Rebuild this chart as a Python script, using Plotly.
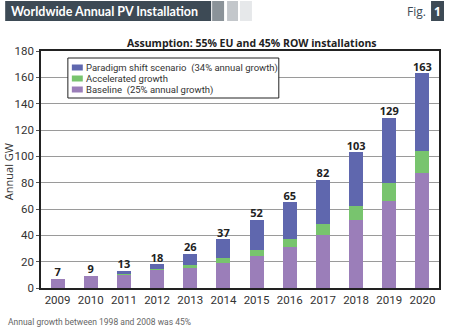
import plotly.graph_objects as go

years = ["2009", "2010", "2011", "2012", "2013", "2014", "2015", "2016", "2017", "2018", "2019", "2020"]
baseline = [7, 9, 10, 13.7, 15.4, 19.2, 24.3, 31.1, 40, 51.4, 66.3, 87.1]
accelerated = [0, 0, 0.4, 1.0, 1.8, 3.8, 4.6, 6.1, 8.4, 10.9, 13.7, 17.2]
totals = [7, 9, 13, 18, 26, 37, 52, 65, 82, 103, 129, 163]
paradigm = [t - b - a for t, b, a in zip(totals, baseline, accelerated)]
y_ticks = [0, 20, 40, 60, 80, 100, 120, 140, 160, 180]
series_names = ["Paradigm shift scenario  (34% annual growth)", "Accelerated growth", "Baseline  (25% annual growth)"]

BLUE = "#5f67ae"
GREEN = "#78c46e"
PURPLE = "#9b7eb9"
FONT = "Open Sans"

fig = go.Figure()
fig.add_trace(go.Bar(x=years, y=baseline, name=series_names[2], marker=dict(color=PURPLE, line=dict(width=0))))
fig.add_trace(go.Bar(x=years, y=accelerated, name=series_names[1], marker=dict(color=GREEN, line=dict(width=0))))
fig.add_trace(go.Bar(x=years, y=paradigm, name=series_names[0], marker=dict(color=BLUE, line=dict(width=0))))
fig.add_trace(go.Scatter(x=years, y=totals, mode="text", text=[str(t) for t in totals],
                         textposition="top center", showlegend=False, hoverinfo="skip",
                         textfont=dict(family=FONT, size=11, color="#222222", weight="bold")))

W, H = 450, 331
L, R, T, B = 41, 9, 51, 43
pw, ph = W - L - R, H - T - B

def px(x):
    return (x - L) / pw

def py(y):
    return (H - B - y) / ph

def prect(x0, x1, y0, y1, fill, line=None, layer="above"):
    return dict(type="rect", xref="paper", yref="paper", x0=px(x0), x1=px(x1), y0=py(y1), y1=py(y0),
                fillcolor=fill, line=line or dict(width=0), layer=layer)

shapes = [
    prect(5, 212, 1, 21, "#3d4a55"),
    prect(213, 225, 1, 21, "#8b9399"),
    prect(228, 239, 1, 21, "#c3c7cb"),
    prect(241, 253, 1, 21, "#e6e8ea"),
    prect(433, 446, 1, 21, "#3d4a55"),
    prect(68, 280, 58, 98, "white", dict(color="#222222", width=1)),
]

annotations = [
    dict(text="Worldwide Annual PV Installation", xref="paper", yref="paper", x=px(9), y=py(11.5),
         xanchor="left", yanchor="middle", showarrow=False, font=dict(family="Lato", size=12.5, color="white", weight="bold")),
    dict(text="Fig.", xref="paper", yref="paper", x=px(430), y=py(11),
         xanchor="right", yanchor="middle", showarrow=False, font=dict(family=FONT, size=12, color="#3d4a55")),
    dict(text="1", xref="paper", yref="paper", x=px(439.5), y=py(11),
         xanchor="center", yanchor="middle", showarrow=False, font=dict(family=FONT, size=12, color="white", weight="bold")),
    dict(text="Assumption: 55% EU and 45% ROW installations", xref="paper", yref="paper", x=px(253), y=py(43),
         xanchor="center", yanchor="middle", showarrow=False, font=dict(family=FONT, size=10.5, color="#222222", weight="bold")),
    dict(text="Annual growth between 1998 and 2008 was 45%", xref="paper", yref="paper", x=px(6), y=py(322),
         xanchor="left", yanchor="middle", showarrow=False, font=dict(family="Roboto", size=8.5, color="#666666")),
    dict(text="Annual GW", xref="paper", yref="paper", x=px(8), y=py(172), textangle=-90,
         xanchor="center", yanchor="middle", showarrow=False, font=dict(family=FONT, size=11, color="#333333")),
]

leg_colors = [BLUE, GREEN, PURPLE]
leg_rows = [67.5, 78.5, 89.5]
for name, col, ry in zip(series_names, leg_colors, leg_rows):
    shapes.append(prect(72, 83, ry - 3, ry + 3, col))
    annotations.append(dict(text=name, xref="paper", yref="paper", x=px(85), y=py(ry),
                            xanchor="left", yanchor="middle", showarrow=False, borderpad=0,
                            font=dict(family="Roboto", size=9.5, color="#333333")))

fig.update_layout(
    width=W, height=H,
    margin=dict(l=L, r=R, t=T, b=B),
    paper_bgcolor="white", plot_bgcolor="white",
    barmode="stack", bargap=0.58,
    font=dict(family=FONT, size=11, color="#333333"),
    showlegend=False,
    shapes=shapes,
    annotations=annotations,
    xaxis=dict(type="category", range=[-0.5, 11.5], showgrid=False, showline=True, linecolor="#222222",
               linewidth=1.5, mirror=True, ticks="", tickfont=dict(family="Roboto", size=11.5, color="#333333")),
    yaxis=dict(range=[0, 180], tickvals=y_ticks, showgrid=True, gridcolor="#9a9a9a", gridwidth=1,
               showline=True, linecolor="#222222", linewidth=1.5, mirror=True,
               ticks="outside", ticklen=3, tickcolor="#555555",
               tickfont=dict(family="Roboto", size=11.5, color="#333333"),
               zeroline=False),
)

fig.write_html("out.html")
